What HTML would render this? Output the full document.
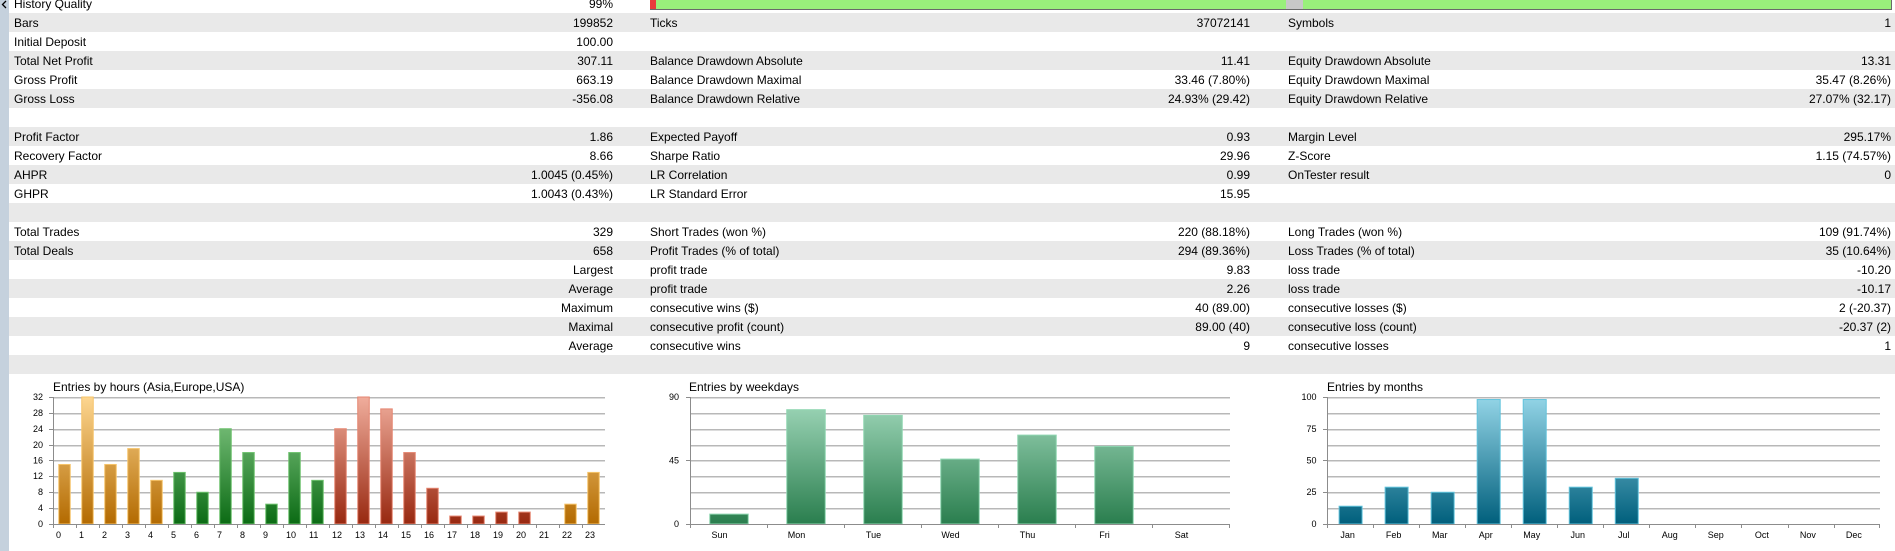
<!DOCTYPE html>
<html><head><meta charset="utf-8"><style>
html,body{margin:0;padding:0;background:#fff;}
svg{display:block;}
text{font-family:"Liberation Sans",Arial,sans-serif;fill:#000;}
.t{font-size:12px;}
.r{text-anchor:end;}
.s{font-size:9px;}
.c{text-anchor:middle;}
</style></head><body>
<svg width="1895" height="551" viewBox="0 0 1895 551" xmlns="http://www.w3.org/2000/svg">
<defs>
<linearGradient id="gA" gradientUnits="userSpaceOnUse" x1="0" y1="397" x2="0" y2="524"><stop offset="0" stop-color="#fdd690"/><stop offset="1" stop-color="#b36a00"/></linearGradient>
<linearGradient id="gG" gradientUnits="userSpaceOnUse" x1="0" y1="397" x2="0" y2="524"><stop offset="0" stop-color="#8fd08f"/><stop offset="1" stop-color="#0b6b14"/></linearGradient>
<linearGradient id="gR" gradientUnits="userSpaceOnUse" x1="0" y1="397" x2="0" y2="524"><stop offset="0" stop-color="#f0ad9c"/><stop offset="1" stop-color="#982810"/></linearGradient>
<linearGradient id="gW" gradientUnits="userSpaceOnUse" x1="0" y1="397" x2="0" y2="524"><stop offset="0" stop-color="#a2d9bc"/><stop offset="1" stop-color="#2a7e4e"/></linearGradient>
<linearGradient id="gM" gradientUnits="userSpaceOnUse" x1="0" y1="397" x2="0" y2="524"><stop offset="0" stop-color="#94d5e7"/><stop offset="1" stop-color="#005f7c"/></linearGradient>
</defs>
<rect x="0" y="0" width="1895" height="551" fill="#fff"/>
<!-- gray rows (odd) -->
<g fill="#e9e9e9">
<rect x="9" y="13" width="1886" height="19"/>
<rect x="9" y="51" width="1886" height="19"/>
<rect x="9" y="89" width="1886" height="19"/>
<rect x="9" y="127" width="1886" height="19"/>
<rect x="9" y="165" width="1886" height="19"/>
<rect x="9" y="203" width="1886" height="19"/>
<rect x="9" y="241" width="1886" height="19"/>
<rect x="9" y="279" width="1886" height="19"/>
<rect x="9" y="317" width="1886" height="19"/>
<rect x="9" y="355" width="1886" height="19"/>
</g>
<!-- left strip -->
<rect x="0" y="0" width="9" height="551" fill="#c5d1dd"/>
<polyline points="6,1 2.5,4.5 6,8" fill="none" stroke="#000" stroke-width="1.3"/>
<!-- progress bar -->
<rect x="650" y="0" width="1241" height="9" fill="#99f07b"/>
<rect x="650" y="0" width="6" height="9" fill="#e83c3c"/>
<rect x="1286" y="0" width="17" height="9" fill="#c8c8c8"/>
<rect x="650" y="9" width="1242" height="1" fill="#6a6a6a"/>
<rect x="1891" y="0" width="1" height="10" fill="#6a6a6a"/>

<!-- table texts -->
<g class="t">
<text x="14" y="8">History Quality</text><text class="r" x="613" y="8">99%</text>
<text x="14" y="27">Bars</text><text class="r" x="613" y="27">199852</text>
<text x="650" y="27">Ticks</text><text class="r" x="1250" y="27">37072141</text>
<text x="1288" y="27">Symbols</text><text class="r" x="1891" y="27">1</text>
<text x="14" y="46">Initial Deposit</text><text class="r" x="613" y="46">100.00</text>
<text x="14" y="65">Total Net Profit</text><text class="r" x="613" y="65">307.11</text>
<text x="650" y="65">Balance Drawdown Absolute</text><text class="r" x="1250" y="65">11.41</text>
<text x="1288" y="65">Equity Drawdown Absolute</text><text class="r" x="1891" y="65">13.31</text>
<text x="14" y="84">Gross Profit</text><text class="r" x="613" y="84">663.19</text>
<text x="650" y="84">Balance Drawdown Maximal</text><text class="r" x="1250" y="84">33.46 (7.80%)</text>
<text x="1288" y="84">Equity Drawdown Maximal</text><text class="r" x="1891" y="84">35.47 (8.26%)</text>
<text x="14" y="103">Gross Loss</text><text class="r" x="613" y="103">-356.08</text>
<text x="650" y="103">Balance Drawdown Relative</text><text class="r" x="1250" y="103">24.93% (29.42)</text>
<text x="1288" y="103">Equity Drawdown Relative</text><text class="r" x="1891" y="103">27.07% (32.17)</text>

<text x="14" y="141">Profit Factor</text><text class="r" x="613" y="141">1.86</text>
<text x="650" y="141">Expected Payoff</text><text class="r" x="1250" y="141">0.93</text>
<text x="1288" y="141">Margin Level</text><text class="r" x="1891" y="141">295.17%</text>
<text x="14" y="160">Recovery Factor</text><text class="r" x="613" y="160">8.66</text>
<text x="650" y="160">Sharpe Ratio</text><text class="r" x="1250" y="160">29.96</text>
<text x="1288" y="160">Z-Score</text><text class="r" x="1891" y="160">1.15 (74.57%)</text>
<text x="14" y="179">AHPR</text><text class="r" x="613" y="179">1.0045 (0.45%)</text>
<text x="650" y="179">LR Correlation</text><text class="r" x="1250" y="179">0.99</text>
<text x="1288" y="179">OnTester result</text><text class="r" x="1891" y="179">0</text>
<text x="14" y="198">GHPR</text><text class="r" x="613" y="198">1.0043 (0.43%)</text>
<text x="650" y="198">LR Standard Error</text><text class="r" x="1250" y="198">15.95</text>

<text x="14" y="236">Total Trades</text><text class="r" x="613" y="236">329</text>
<text x="650" y="236">Short Trades (won %)</text><text class="r" x="1250" y="236">220 (88.18%)</text>
<text x="1288" y="236">Long Trades (won %)</text><text class="r" x="1891" y="236">109 (91.74%)</text>
<text x="14" y="255">Total Deals</text><text class="r" x="613" y="255">658</text>
<text x="650" y="255">Profit Trades (% of total)</text><text class="r" x="1250" y="255">294 (89.36%)</text>
<text x="1288" y="255">Loss Trades (% of total)</text><text class="r" x="1891" y="255">35 (10.64%)</text>
<text class="r" x="613" y="274">Largest</text>
<text x="650" y="274">profit trade</text><text class="r" x="1250" y="274">9.83</text>
<text x="1288" y="274">loss trade</text><text class="r" x="1891" y="274">-10.20</text>
<text class="r" x="613" y="293">Average</text>
<text x="650" y="293">profit trade</text><text class="r" x="1250" y="293">2.26</text>
<text x="1288" y="293">loss trade</text><text class="r" x="1891" y="293">-10.17</text>
<text class="r" x="613" y="312">Maximum</text>
<text x="650" y="312">consecutive wins ($)</text><text class="r" x="1250" y="312">40 (89.00)</text>
<text x="1288" y="312">consecutive losses ($)</text><text class="r" x="1891" y="312">2 (-20.37)</text>
<text class="r" x="613" y="331">Maximal</text>
<text x="650" y="331">consecutive profit (count)</text><text class="r" x="1250" y="331">89.00 (40)</text>
<text x="1288" y="331">consecutive loss (count)</text><text class="r" x="1891" y="331">-20.37 (2)</text>
<text class="r" x="613" y="350">Average</text>
<text x="650" y="350">consecutive wins</text><text class="r" x="1250" y="350">9</text>
<text x="1288" y="350">consecutive losses</text><text class="r" x="1891" y="350">1</text>
</g>

<!-- ===== Chart 1: hours ===== -->
<text class="t" x="53" y="391">Entries by hours (Asia,Europe,USA)</text>
<g shape-rendering="crispEdges">
<g fill="#b8b8b8">
<rect x="53" y="397" width="552" height="1"/><rect x="53" y="413" width="552" height="1"/><rect x="53" y="429" width="552" height="1"/><rect x="53" y="445" width="552" height="1"/><rect x="53" y="460" width="552" height="1"/><rect x="53" y="476" width="552" height="1"/><rect x="53" y="492" width="552" height="1"/><rect x="53" y="508" width="552" height="1"/>
</g>
<g fill="#dcdcdc">
<rect x="53" y="398" width="552" height="1"/><rect x="53" y="414" width="552" height="1"/><rect x="53" y="430" width="552" height="1"/><rect x="53" y="446" width="552" height="1"/><rect x="53" y="461" width="552" height="1"/><rect x="53" y="477" width="552" height="1"/><rect x="53" y="493" width="552" height="1"/><rect x="53" y="509" width="552" height="1"/>
</g>
</g>
<g stroke-width="1">
<rect x="58.75" y="464.47" width="11.5" height="59.53" fill="url(#gA)" stroke="#f6c46a"/>
<rect x="81.75" y="397" width="11.5" height="127" fill="url(#gA)" stroke="#f6c46a"/>
<rect x="104.75" y="464.47" width="11.5" height="59.53" fill="url(#gA)" stroke="#f6c46a"/>
<rect x="127.75" y="448.59" width="11.5" height="75.41" fill="url(#gA)" stroke="#f6c46a"/>
<rect x="150.75" y="480.34" width="11.5" height="43.66" fill="url(#gA)" stroke="#f6c46a"/>
<rect x="173.75" y="472.41" width="11.5" height="51.59" fill="url(#gG)" stroke="#6cc06c"/>
<rect x="196.75" y="492.25" width="11.5" height="31.75" fill="url(#gG)" stroke="#6cc06c"/>
<rect x="219.75" y="428.75" width="11.5" height="95.25" fill="url(#gG)" stroke="#6cc06c"/>
<rect x="242.75" y="452.56" width="11.5" height="71.44" fill="url(#gG)" stroke="#6cc06c"/>
<rect x="265.75" y="504.16" width="11.5" height="19.84" fill="url(#gG)" stroke="#6cc06c"/>
<rect x="288.75" y="452.56" width="11.5" height="71.44" fill="url(#gG)" stroke="#6cc06c"/>
<rect x="311.75" y="480.34" width="11.5" height="43.66" fill="url(#gG)" stroke="#6cc06c"/>
<rect x="334.75" y="428.75" width="11.5" height="95.25" fill="url(#gR)" stroke="#e58570"/>
<rect x="357.75" y="397" width="11.5" height="127" fill="url(#gR)" stroke="#e58570"/>
<rect x="380.75" y="408.91" width="11.5" height="115.09" fill="url(#gR)" stroke="#e58570"/>
<rect x="403.75" y="452.56" width="11.5" height="71.44" fill="url(#gR)" stroke="#e58570"/>
<rect x="426.75" y="488.28" width="11.5" height="35.72" fill="url(#gR)" stroke="#e58570"/>
<rect x="449.75" y="516.06" width="11.5" height="7.94" fill="url(#gR)" stroke="#e58570"/>
<rect x="472.75" y="516.06" width="11.5" height="7.94" fill="url(#gR)" stroke="#e58570"/>
<rect x="495.75" y="512.09" width="11.5" height="11.91" fill="url(#gR)" stroke="#e58570"/>
<rect x="518.75" y="512.09" width="11.5" height="11.91" fill="url(#gR)" stroke="#e58570"/>
<rect x="564.75" y="504.16" width="11.5" height="19.84" fill="url(#gA)" stroke="#f6c46a"/>
<rect x="587.75" y="472.41" width="11.5" height="51.59" fill="url(#gA)" stroke="#f6c46a"/>
</g>
<g shape-rendering="crispEdges" fill="#8c8c8c">
<rect x="53" y="524" width="552" height="1"/>
<rect x="53" y="397" width="1" height="131"/>
<rect x="76" y="524" width="1" height="4"/><rect x="99" y="524" width="1" height="4"/><rect x="122" y="524" width="1" height="4"/><rect x="145" y="524" width="1" height="4"/><rect x="168" y="524" width="1" height="4"/><rect x="191" y="524" width="1" height="4"/><rect x="214" y="524" width="1" height="4"/><rect x="237" y="524" width="1" height="4"/><rect x="260" y="524" width="1" height="4"/><rect x="283" y="524" width="1" height="4"/><rect x="306" y="524" width="1" height="4"/><rect x="329" y="524" width="1" height="4"/><rect x="352" y="524" width="1" height="4"/><rect x="375" y="524" width="1" height="4"/><rect x="398" y="524" width="1" height="4"/><rect x="421" y="524" width="1" height="4"/><rect x="444" y="524" width="1" height="4"/><rect x="467" y="524" width="1" height="4"/><rect x="490" y="524" width="1" height="4"/><rect x="513" y="524" width="1" height="4"/><rect x="536" y="524" width="1" height="4"/><rect x="559" y="524" width="1" height="4"/><rect x="582" y="524" width="1" height="4"/>
<rect x="49" y="397" width="4" height="1"/><rect x="49" y="413" width="4" height="1"/><rect x="49" y="429" width="4" height="1"/><rect x="49" y="445" width="4" height="1"/><rect x="49" y="460" width="4" height="1"/><rect x="49" y="476" width="4" height="1"/><rect x="49" y="492" width="4" height="1"/><rect x="49" y="508" width="4" height="1"/><rect x="49" y="524" width="4" height="1"/>
</g>
<g class="s">
<text class="r" x="43" y="400">32</text><text class="r" x="43" y="416">28</text><text class="r" x="43" y="432">24</text><text class="r" x="43" y="448">20</text><text class="r" x="43" y="463.5">16</text><text class="r" x="43" y="479">12</text><text class="r" x="43" y="495">8</text><text class="r" x="43" y="511">4</text><text class="r" x="43" y="527">0</text>
<text x="56" y="538">0</text><text x="79" y="538">1</text><text x="102" y="538">2</text><text x="125" y="538">3</text><text x="148" y="538">4</text><text x="171" y="538">5</text><text x="194" y="538">6</text><text x="217" y="538">7</text><text x="240" y="538">8</text><text x="263" y="538">9</text><text x="286" y="538">10</text><text x="309" y="538">11</text><text x="332" y="538">12</text><text x="355" y="538">13</text><text x="378" y="538">14</text><text x="401" y="538">15</text><text x="424" y="538">16</text><text x="447" y="538">17</text><text x="470" y="538">18</text><text x="493" y="538">19</text><text x="516" y="538">20</text><text x="539" y="538">21</text><text x="562" y="538">22</text><text x="585" y="538">23</text>
</g>

<!-- ===== Chart 2: weekdays ===== -->
<text class="t" x="689" y="391">Entries by weekdays</text>
<g shape-rendering="crispEdges">
<g fill="#b8b8b8">
<rect x="690" y="397" width="540" height="1"/><rect x="690" y="413" width="540" height="1"/><rect x="690" y="429" width="540" height="1"/><rect x="690" y="445" width="540" height="1"/><rect x="690" y="460" width="540" height="1"/><rect x="690" y="476" width="540" height="1"/><rect x="690" y="492" width="540" height="1"/><rect x="690" y="508" width="540" height="1"/>
</g>
<g fill="#dcdcdc">
<rect x="690" y="398" width="540" height="1"/><rect x="690" y="414" width="540" height="1"/><rect x="690" y="430" width="540" height="1"/><rect x="690" y="446" width="540" height="1"/><rect x="690" y="461" width="540" height="1"/><rect x="690" y="477" width="540" height="1"/><rect x="690" y="493" width="540" height="1"/><rect x="690" y="509" width="540" height="1"/>
</g>
</g>
<g stroke="#8fd6b1" stroke-width="1" fill="url(#gW)">
<rect x="709.75" y="514.12" width="38.5" height="9.88"/>
<rect x="786.75" y="409.7" width="38.5" height="114.3"/>
<rect x="863.75" y="415.34" width="38.5" height="108.66"/>
<rect x="940.75" y="459.09" width="38.5" height="64.91"/>
<rect x="1017.75" y="435.1" width="38.5" height="88.9"/>
<rect x="1094.75" y="446.39" width="38.5" height="77.61"/>
</g>
<g shape-rendering="crispEdges" fill="#8c8c8c">
<rect x="690" y="524" width="540" height="1"/>
<rect x="690" y="397" width="1" height="131"/>
<rect x="767" y="524" width="1" height="4"/><rect x="844" y="524" width="1" height="4"/><rect x="921" y="524" width="1" height="4"/><rect x="998" y="524" width="1" height="4"/><rect x="1075" y="524" width="1" height="4"/><rect x="1152" y="524" width="1" height="4"/><rect x="1229" y="524" width="1" height="4"/>
<rect x="686" y="397" width="4" height="1"/><rect x="686" y="460" width="4" height="1"/><rect x="686" y="524" width="4" height="1"/>
</g>
<g class="s">
<text class="r" x="679" y="400">90</text><text class="r" x="679" y="463.5">45</text><text class="r" x="679" y="527">0</text>
<text class="c" x="719.5" y="538">Sun</text><text class="c" x="796.5" y="538">Mon</text><text class="c" x="873.5" y="538">Tue</text><text class="c" x="950.5" y="538">Wed</text><text class="c" x="1027.5" y="538">Thu</text><text class="c" x="1104.5" y="538">Fri</text><text class="c" x="1181.5" y="538">Sat</text>
</g>

<!-- ===== Chart 3: months ===== -->
<text class="t" x="1327" y="391">Entries by months</text>
<g shape-rendering="crispEdges">
<g fill="#b8b8b8">
<rect x="1327" y="397" width="553" height="1"/><rect x="1327" y="413" width="553" height="1"/><rect x="1327" y="429" width="553" height="1"/><rect x="1327" y="445" width="553" height="1"/><rect x="1327" y="460" width="553" height="1"/><rect x="1327" y="476" width="553" height="1"/><rect x="1327" y="492" width="553" height="1"/><rect x="1327" y="508" width="553" height="1"/>
</g>
<g fill="#dcdcdc">
<rect x="1327" y="398" width="553" height="1"/><rect x="1327" y="414" width="553" height="1"/><rect x="1327" y="430" width="553" height="1"/><rect x="1327" y="446" width="553" height="1"/><rect x="1327" y="461" width="553" height="1"/><rect x="1327" y="477" width="553" height="1"/><rect x="1327" y="493" width="553" height="1"/><rect x="1327" y="509" width="553" height="1"/>
</g>
</g>
<g stroke="#62c3dc" stroke-width="1" fill="url(#gM)">
<rect x="1339.1" y="506.22" width="23" height="17.78"/>
<rect x="1385.13" y="487.17" width="23" height="36.83"/>
<rect x="1431.16" y="492.25" width="23" height="31.75"/>
<rect x="1477.19" y="399.54" width="23" height="124.46"/>
<rect x="1523.22" y="399.54" width="23" height="124.46"/>
<rect x="1569.25" y="487.17" width="23" height="36.83"/>
<rect x="1615.28" y="478.28" width="23" height="45.72"/>
</g>
<g shape-rendering="crispEdges" fill="#8c8c8c">
<rect x="1327" y="524" width="553" height="1"/>
<rect x="1327" y="397" width="1" height="131"/>
<rect x="1373" y="524" width="1" height="4"/><rect x="1419" y="524" width="1" height="4"/><rect x="1465" y="524" width="1" height="4"/><rect x="1511" y="524" width="1" height="4"/><rect x="1557" y="524" width="1" height="4"/><rect x="1603" y="524" width="1" height="4"/><rect x="1649" y="524" width="1" height="4"/><rect x="1695" y="524" width="1" height="4"/><rect x="1741" y="524" width="1" height="4"/><rect x="1788" y="524" width="1" height="4"/><rect x="1834" y="524" width="1" height="4"/><rect x="1879" y="524" width="1" height="4"/>
<rect x="1323" y="397" width="4" height="1"/><rect x="1323" y="429" width="4" height="1"/><rect x="1323" y="460" width="4" height="1"/><rect x="1323" y="492" width="4" height="1"/><rect x="1323" y="524" width="4" height="1"/>
</g>
<g class="s">
<text class="r" x="1316.5" y="400">100</text><text class="r" x="1316.5" y="432">75</text><text class="r" x="1316.5" y="463.5">50</text><text class="r" x="1316.5" y="495">25</text><text class="r" x="1316.5" y="527">0</text>
<text class="c" x="1347.6" y="538">Jan</text><text class="c" x="1393.6" y="538">Feb</text><text class="c" x="1439.7" y="538">Mar</text><text class="c" x="1485.7" y="538">Apr</text><text class="c" x="1531.7" y="538">May</text><text class="c" x="1577.8" y="538">Jun</text><text class="c" x="1623.8" y="538">Jul</text><text class="c" x="1669.8" y="538">Aug</text><text class="c" x="1715.8" y="538">Sep</text><text class="c" x="1761.9" y="538">Oct</text><text class="c" x="1807.9" y="538">Nov</text><text class="c" x="1853.9" y="538">Dec</text>
</g>
</svg>
</body></html>
